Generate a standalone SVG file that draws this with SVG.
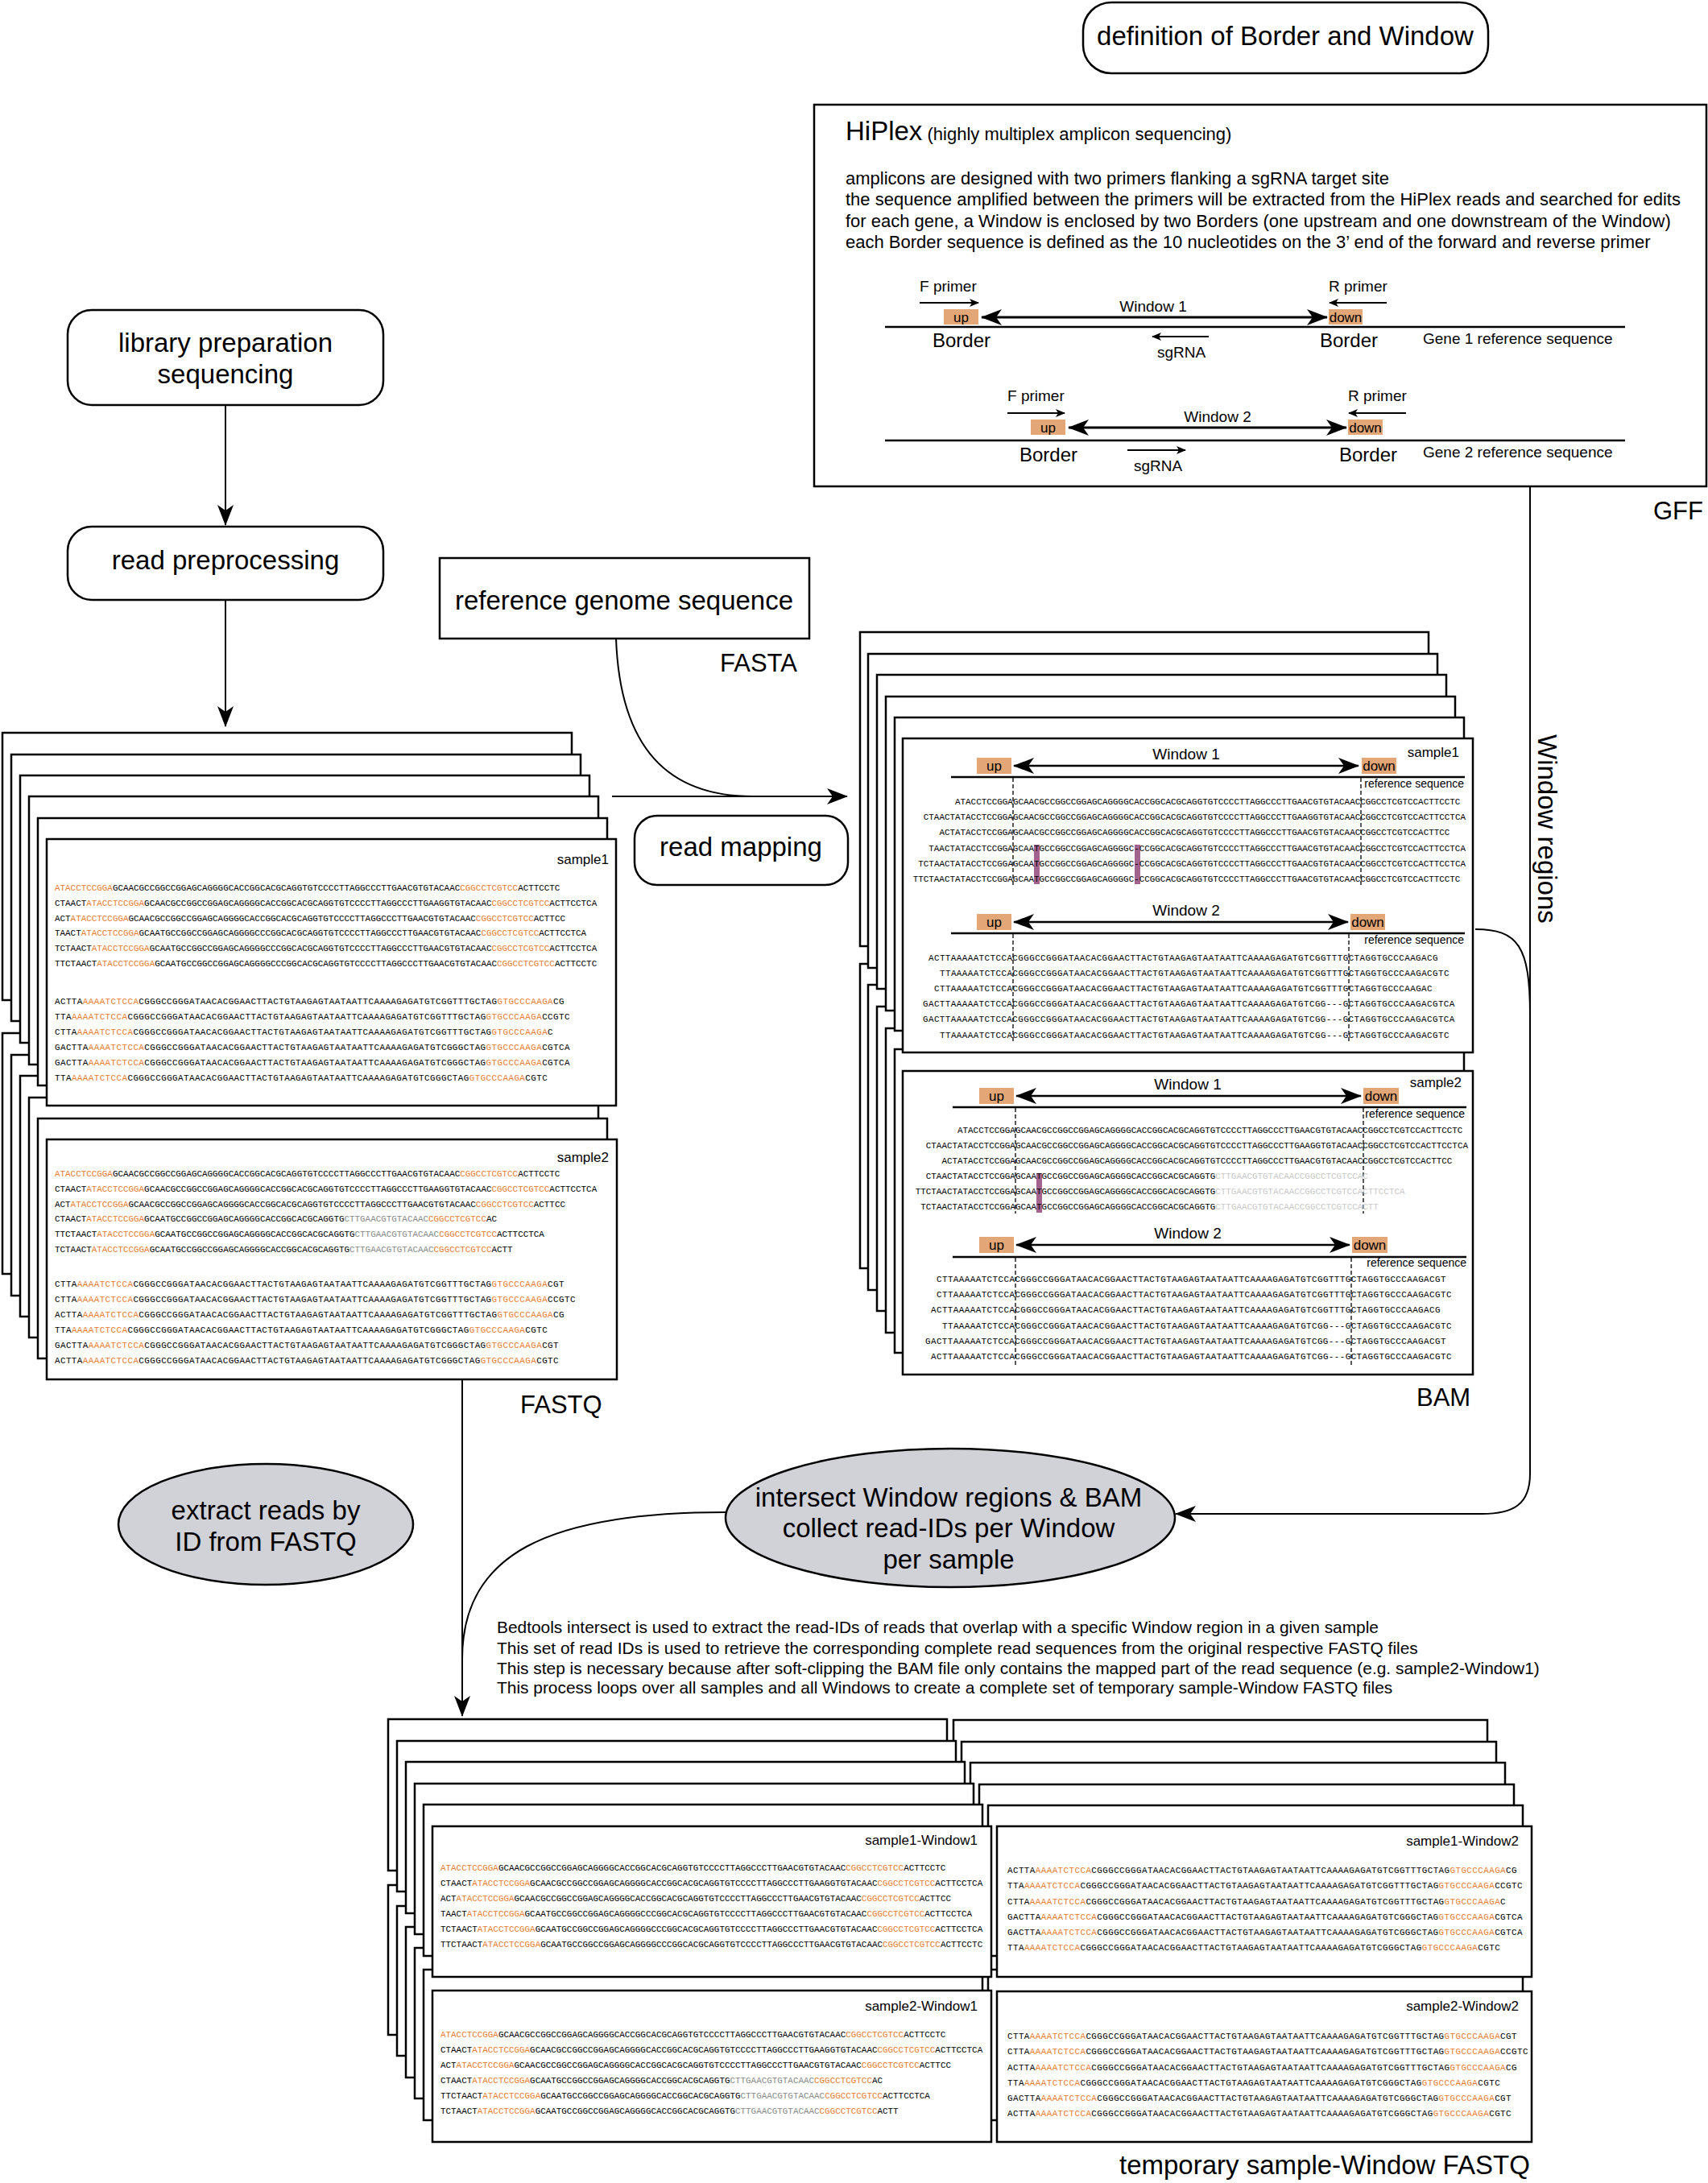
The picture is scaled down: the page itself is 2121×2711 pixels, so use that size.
<svg xmlns="http://www.w3.org/2000/svg" width="2121" height="2711" viewBox="0 0 2121 2711">
<style>
.t{font-family:"Liberation Sans",Arial,sans-serif;fill:#000}
.c{text-anchor:middle}
.r{text-anchor:end}
.nb{fill:#fff;stroke:#000;stroke-width:2.5}
.fr{fill:#fff;stroke:#000;stroke-width:2.5}
.seq{font-family:"Liberation Mono","Courier New",monospace;font-size:10.9px;fill:#000}
.w2{letter-spacing:0.42px}
.o{fill:#E67E33}
.g{fill:#8a8a8a}
.lg{fill:#c9c9c9}
.ln{fill:none;stroke:#000;stroke-width:2}
.bx{fill:#E3A676}
.pu{fill:#A3638F}
.ds{stroke:#000;stroke-width:1.3;stroke-dasharray:5,3}
.el{fill:#D1D2D8;stroke:#000;stroke-width:2.5}
</style>
<defs>
<marker id="ah" viewBox="0 0 26 20" refX="25" refY="10" markerWidth="26" markerHeight="20" markerUnits="userSpaceOnUse" orient="auto"><path d="M0,0 L26,10 L0,20 L7,10 Z" fill="#000"/></marker>
<marker id="wh" viewBox="0 0 26 20" refX="25" refY="10" markerWidth="26" markerHeight="20" markerUnits="userSpaceOnUse" orient="auto-start-reverse"><path d="M0,0 L26,10 L0,20 L7,10 Z" fill="#000"/></marker>
<marker id="sh" viewBox="0 0 12 10" refX="11" refY="5" markerWidth="12" markerHeight="10" markerUnits="userSpaceOnUse" orient="auto"><path d="M0,0 L12,5 L0,10 L3,5 Z" fill="#000"/></marker>
</defs>
<rect width="2121" height="2711" fill="#fff"/>

<!-- connectors -->
<g id="connectors">
<path class="ln" d="M280,503 L280,652" marker-end="url(#ah)"/>
<path class="ln" d="M280,745 L280,902" marker-end="url(#ah)"/>
<path class="ln" d="M765,793 C770,930 830,989 935,989"/>
<path class="ln" d="M760,989 L1052,989" marker-end="url(#ah)"/>
<path class="ln" d="M1900,605 L1900,1830 C1900,1868 1880,1880 1840,1880 L1460,1880" marker-end="url(#ah)"/>
<path class="ln" d="M1832,1154 C1885,1154 1900,1175 1900,1260"/>
<path class="ln" d="M574,1713 L574,2131" marker-end="url(#ah)"/>
<path class="ln" d="M901,1878 C680,1878 574,1930 574,2060"/>
</g>

<!-- definition box -->
<g id="definition">
<rect class="nb" x="1345" y="3" width="503" height="88" rx="35"/>
<text class="t c" x="1596" y="56" font-size="33">definition of Border and Window</text>
</g>

<!-- HiPlex box -->
<g id="hiplex">
<rect class="nb" x="1011" y="130" width="1108" height="474"/>
<text class="t" x="1050" y="174" font-size="33">HiPlex<tspan font-size="22"> (highly multiplex amplicon sequencing)</tspan></text>
<text class="t" x="1050" y="229" font-size="22">amplicons are designed with two primers flanking a sgRNA target site</text>
<text class="t" x="1050" y="255" font-size="22">the sequence amplified between the primers will be extracted from the HiPlex reads and searched for edits</text>
<text class="t" x="1050" y="282" font-size="22">for each gene, a Window is enclosed by two Borders (one upstream and one downstream of the Window)</text>
<text class="t" x="1050" y="308" font-size="22">each Border sequence is defined as the 10 nucleotides on the 3’ end of the forward and reverse primer</text>
<!-- gene 1 -->
<text class="t" x="1142" y="362" font-size="19">F primer</text>
<path class="ln" d="M1142,376 L1215,376" marker-end="url(#sh)"/>
<rect class="bx" x="1172" y="384" width="43" height="19"/>
<text class="t c" x="1193.5" y="400" font-size="17">up</text>
<path d="M1219,394 L1648,394" stroke="#000" stroke-width="3" fill="none" marker-start="url(#wh)" marker-end="url(#wh)"/>
<text class="t c" x="1432" y="387" font-size="19">Window 1</text>
<rect class="bx" x="1650" y="384" width="42" height="19"/>
<text class="t c" x="1671" y="400" font-size="17">down</text>
<text class="t" x="1650" y="362" font-size="19">R primer</text>
<path class="ln" d="M1722,376 L1651,376" marker-end="url(#sh)"/>
<path d="M1099,406 L2018,406" stroke="#000" stroke-width="2.5"/>
<text class="t c" x="1194" y="431" font-size="24">Border</text>
<text class="t c" x="1675" y="431" font-size="24">Border</text>
<path class="ln" d="M1501,418 L1431,418" marker-end="url(#sh)"/>
<text class="t c" x="1467" y="444" font-size="19">sgRNA</text>
<text class="t" x="1767" y="427" font-size="19">Gene 1 reference sequence</text>
<!-- gene 2 -->
<text class="t" x="1251" y="498" font-size="19">F primer</text>
<path class="ln" d="M1251,513 L1322,513" marker-end="url(#sh)"/>
<rect class="bx" x="1280" y="521" width="43" height="19"/>
<text class="t c" x="1301.5" y="537" font-size="17">up</text>
<path d="M1327,531 L1672,531" stroke="#000" stroke-width="3" fill="none" marker-start="url(#wh)" marker-end="url(#wh)"/>
<text class="t c" x="1512" y="524" font-size="19">Window 2</text>
<rect class="bx" x="1674" y="521" width="43" height="19"/>
<text class="t c" x="1695.5" y="537" font-size="17">down</text>
<text class="t" x="1674" y="498" font-size="19">R primer</text>
<path class="ln" d="M1746,513 L1675,513" marker-end="url(#sh)"/>
<path d="M1099,547 L2018,547" stroke="#000" stroke-width="2.5"/>
<text class="t c" x="1302" y="573" font-size="24">Border</text>
<text class="t c" x="1699" y="573" font-size="24">Border</text>
<path class="ln" d="M1400,559 L1472,559" marker-end="url(#sh)"/>
<text class="t c" x="1438" y="585" font-size="19">sgRNA</text>
<text class="t" x="1767" y="568" font-size="19">Gene 2 reference sequence</text>
</g>
<text id="gff-label" class="t" x="2053" y="645" font-size="31">GFF</text>
<text id="window-regions-label" class="t" transform="translate(1910,912) rotate(90)" font-size="33">Window regions</text>

<!-- left nodes -->
<g id="lib-prep">
<rect class="nb" x="84" y="385" width="392" height="118" rx="30"/>
<text class="t c" x="280" y="437" font-size="33">library preparation</text>
<text class="t c" x="280" y="476" font-size="33">sequencing</text>
</g>
<g id="read-preproc">
<rect class="nb" x="84" y="654" width="392" height="91" rx="30"/>
<text class="t c" x="280" y="707" font-size="33">read preprocessing</text>
</g>
<g id="ref-genome">
<rect class="nb" x="546" y="693" width="459" height="100"/>
<text class="t c" x="775" y="757" font-size="33">reference genome sequence</text>
<text class="t" x="894" y="834" font-size="31">FASTA</text>
</g>
<g id="read-mapping">
<rect class="nb" x="788" y="1013" width="265" height="86" rx="28"/>
<text class="t c" x="920" y="1063" font-size="33">read mapping</text>
</g>

<!-- FASTQ stack -->
<g id="fastq-stack">
<g id="fastq-s2">
<rect class="fr" x="3" y="1283" width="707" height="299"/>
<rect class="fr" x="14" y="1310" width="707" height="299"/>
<rect class="fr" x="25" y="1336" width="707" height="299"/>
<rect class="fr" x="36" y="1363" width="707" height="298"/>
<rect class="fr" x="47" y="1389" width="707" height="298"/>
<rect class="fr" x="58" y="1415" width="708" height="298"/>
<text class="t r" x="756" y="1443" font-size="17">sample2</text>
<text class="seq" x="68" y="1461"><tspan class="o">ATACCTCCGGA</tspan>GCAACGCCGGCCGGAGCAGGGGCACCGGCACGCAGGTGTCCCCTTAGGCCCTTGAACGTGTACAAC<tspan class="o">CGGCCTCGTCC</tspan>ACTTCCTC</text>
<text class="seq" x="68" y="1480">CTAACT<tspan class="o">ATACCTCCGGA</tspan>GCAACGCCGGCCGGAGCAGGGGCACCGGCACGCAGGTGTCCCCTTAGGCCCTTGAAGGTGTACAAC<tspan class="o">CGGCCTCGTCC</tspan>ACTTCCTCA</text>
<text class="seq" x="68" y="1499">ACT<tspan class="o">ATACCTCCGGA</tspan>GCAACGCCGGCCGGAGCAGGGGCACCGGCACGCAGGTGTCCCCTTAGGCCCTTGAACGTGTACAAC<tspan class="o">CGGCCTCGTCC</tspan>ACTTCC</text>
<text class="seq" x="68" y="1517">CTAACT<tspan class="o">ATACCTCCGGA</tspan>GCAATGCCGGCCGGAGCAGGGGCACCGGCACGCAGGTG<tspan class="g">CTTGAACGTGTACAAC</tspan><tspan class="o">CGGCCTCGTCC</tspan>AC</text>
<text class="seq" x="68" y="1536">TTCTAACT<tspan class="o">ATACCTCCGGA</tspan>GCAATGCCGGCCGGAGCAGGGGCACCGGCACGCAGGTG<tspan class="g">CTTGAACGTGTACAAC</tspan><tspan class="o">CGGCCTCGTCC</tspan>ACTTCCTCA</text>
<text class="seq" x="68" y="1555">TCTAACT<tspan class="o">ATACCTCCGGA</tspan>GCAATGCCGGCCGGAGCAGGGGCACCGGCACGCAGGTG<tspan class="g">CTTGAACGTGTACAAC</tspan><tspan class="o">CGGCCTCGTCC</tspan>ACTT</text>
<text class="seq w2" x="68" y="1598">CTTA<tspan class="o">AAAATCTCCA</tspan>CGGGCCGGGATAACACGGAACTTACTGTAAGAGTAATAATTCAAAAGAGATGTCGGTTTGCTAG<tspan class="o">GTGCCCAAGA</tspan>CGT</text>
<text class="seq w2" x="68" y="1617">CTTA<tspan class="o">AAAATCTCCA</tspan>CGGGCCGGGATAACACGGAACTTACTGTAAGAGTAATAATTCAAAAGAGATGTCGGTTTGCTAG<tspan class="o">GTGCCCAAGA</tspan>CCGTC</text>
<text class="seq w2" x="68" y="1636">ACTTA<tspan class="o">AAAATCTCCA</tspan>CGGGCCGGGATAACACGGAACTTACTGTAAGAGTAATAATTCAAAAGAGATGTCGGTTTGCTAG<tspan class="o">GTGCCCAAGA</tspan>CG</text>
<text class="seq w2" x="68" y="1655">TTA<tspan class="o">AAAATCTCCA</tspan>CGGGCCGGGATAACACGGAACTTACTGTAAGAGTAATAATTCAAAAGAGATGTCGGGCTAG<tspan class="o">GTGCCCAAGA</tspan>CGTC</text>
<text class="seq w2" x="68" y="1674">GACTTA<tspan class="o">AAAATCTCCA</tspan>CGGGCCGGGATAACACGGAACTTACTGTAAGAGTAATAATTCAAAAGAGATGTCGGGCTAG<tspan class="o">GTGCCCAAGA</tspan>CGT</text>
<text class="seq w2" x="68" y="1693">ACTTA<tspan class="o">AAAATCTCCA</tspan>CGGGCCGGGATAACACGGAACTTACTGTAAGAGTAATAATTCAAAAGAGATGTCGGGCTAG<tspan class="o">GTGCCCAAGA</tspan>CGTC</text>
</g>
<g id="fastq-s1">
<rect class="fr" x="3" y="910" width="707" height="332"/>
<rect class="fr" x="14" y="937" width="707" height="331"/>
<rect class="fr" x="25" y="963" width="707" height="332"/>
<rect class="fr" x="36" y="989" width="707" height="333"/>
<rect class="fr" x="47" y="1016" width="707" height="332"/>
<rect class="fr" x="58" y="1042" width="707" height="331"/>
<text class="t r" x="756" y="1073" font-size="17">sample1</text>
<text class="seq" x="68" y="1106"><tspan class="o">ATACCTCCGGA</tspan>GCAACGCCGGCCGGAGCAGGGGCACCGGCACGCAGGTGTCCCCTTAGGCCCTTGAACGTGTACAAC<tspan class="o">CGGCCTCGTCC</tspan>ACTTCCTC</text>
<text class="seq" x="68" y="1125">CTAACT<tspan class="o">ATACCTCCGGA</tspan>GCAACGCCGGCCGGAGCAGGGGCACCGGCACGCAGGTGTCCCCTTAGGCCCTTGAAGGTGTACAAC<tspan class="o">CGGCCTCGTCC</tspan>ACTTCCTCA</text>
<text class="seq" x="68" y="1144">ACT<tspan class="o">ATACCTCCGGA</tspan>GCAACGCCGGCCGGAGCAGGGGCACCGGCACGCAGGTGTCCCCTTAGGCCCTTGAACGTGTACAAC<tspan class="o">CGGCCTCGTCC</tspan>ACTTCC</text>
<text class="seq" x="68" y="1162">TAACT<tspan class="o">ATACCTCCGGA</tspan>GCAATGCCGGCCGGAGCAGGGGCCCGGCACGCAGGTGTCCCCTTAGGCCCTTGAACGTGTACAAC<tspan class="o">CGGCCTCGTCC</tspan>ACTTCCTCA</text>
<text class="seq" x="68" y="1181">TCTAACT<tspan class="o">ATACCTCCGGA</tspan>GCAATGCCGGCCGGAGCAGGGGCCCGGCACGCAGGTGTCCCCTTAGGCCCTTGAACGTGTACAAC<tspan class="o">CGGCCTCGTCC</tspan>ACTTCCTCA</text>
<text class="seq" x="68" y="1200">TTCTAACT<tspan class="o">ATACCTCCGGA</tspan>GCAATGCCGGCCGGAGCAGGGGCCCGGCACGCAGGTGTCCCCTTAGGCCCTTGAACGTGTACAAC<tspan class="o">CGGCCTCGTCC</tspan>ACTTCCTC</text>
<text class="seq w2" x="68" y="1247">ACTTA<tspan class="o">AAAATCTCCA</tspan>CGGGCCGGGATAACACGGAACTTACTGTAAGAGTAATAATTCAAAAGAGATGTCGGTTTGCTAG<tspan class="o">GTGCCCAAGA</tspan>CG</text>
<text class="seq w2" x="68" y="1266">TTA<tspan class="o">AAAATCTCCA</tspan>CGGGCCGGGATAACACGGAACTTACTGTAAGAGTAATAATTCAAAAGAGATGTCGGTTTGCTAG<tspan class="o">GTGCCCAAGA</tspan>CCGTC</text>
<text class="seq w2" x="68" y="1285">CTTA<tspan class="o">AAAATCTCCA</tspan>CGGGCCGGGATAACACGGAACTTACTGTAAGAGTAATAATTCAAAAGAGATGTCGGTTTGCTAG<tspan class="o">GTGCCCAAGA</tspan>C</text>
<text class="seq w2" x="68" y="1304">GACTTA<tspan class="o">AAAATCTCCA</tspan>CGGGCCGGGATAACACGGAACTTACTGTAAGAGTAATAATTCAAAAGAGATGTCGGGCTAG<tspan class="o">GTGCCCAAGA</tspan>CGTCA</text>
<text class="seq w2" x="68" y="1323">GACTTA<tspan class="o">AAAATCTCCA</tspan>CGGGCCGGGATAACACGGAACTTACTGTAAGAGTAATAATTCAAAAGAGATGTCGGGCTAG<tspan class="o">GTGCCCAAGA</tspan>CGTCA</text>
<text class="seq w2" x="68" y="1342">TTA<tspan class="o">AAAATCTCCA</tspan>CGGGCCGGGATAACACGGAACTTACTGTAAGAGTAATAATTCAAAAGAGATGTCGGGCTAG<tspan class="o">GTGCCCAAGA</tspan>CGTC</text>
</g>
<text class="t" x="646" y="1755" font-size="31">FASTQ</text>
</g>

<!-- BAM stack -->
<g id="bam-stack">
<g id="bam-s2">
<rect class="fr" x="1068" y="1197" width="706" height="378"/>
<rect class="fr" x="1078" y="1223" width="707" height="379"/>
<rect class="fr" x="1089" y="1250" width="707" height="378"/>
<rect class="fr" x="1100" y="1277" width="707" height="378"/>
<rect class="fr" x="1111" y="1303" width="707" height="377"/>
<rect class="fr" x="1121" y="1330" width="708" height="377"/>
<text class="t c" x="1475" y="1353" font-size="19">Window 1</text>
<text class="t r" x="1815" y="1350" font-size="17">sample2</text>
<rect class="bx" x="1216" y="1351" width="43" height="20"/>
<text class="t c" x="1237.5" y="1367" font-size="17">up</text>
<path d="M1262,1361 L1690,1361" stroke="#000" stroke-width="2.5" fill="none" marker-start="url(#wh)" marker-end="url(#wh)"/>
<rect class="bx" x="1693" y="1351" width="44" height="20"/>
<text class="t c" x="1715" y="1367" font-size="17">down</text>
<path d="M1183,1375 L1821,1375" stroke="#000" stroke-width="2.5"/>
<text class="t r" x="1819" y="1388" font-size="14">reference sequence</text>
<path class="ds" d="M1261,1376 L1261,1507 M1693,1376 L1693,1507"/>
<rect class="pu" x="1287" y="1457" width="7" height="49"/>
<text class="seq" x="1189" y="1407">ATACCTCCGGAGCAACGCCGGCCGGAGCAGGGGCACCGGCACGCAGGTGTCCCCTTAGGCCCTTGAACGTGTACAACCGGCCTCGTCCACTTCCTC</text>
<text class="seq" x="1149.8" y="1426">CTAACTATACCTCCGGAGCAACGCCGGCCGGAGCAGGGGCACCGGCACGCAGGTGTCCCCTTAGGCCCTTGAAGGTGTACAACCGGCCTCGTCCACTTCCTCA</text>
<text class="seq" x="1169.4" y="1445">ACTATACCTCCGGAGCAACGCCGGCCGGAGCAGGGGCACCGGCACGCAGGTGTCCCCTTAGGCCCTTGAACGTGTACAACCGGCCTCGTCCACTTCC</text>
<text class="seq" x="1149.8" y="1464">CTAACTATACCTCCGGAGCAATGCCGGCCGGAGCAGGGGCACCGGCACGCAGGTG<tspan class="lg">CTTGAACGTGTACAACCGGCCTCGTCCAC</tspan></text>
<text class="seq" x="1136.7" y="1483">TTCTAACTATACCTCCGGAGCAATGCCGGCCGGAGCAGGGGCACCGGCACGCAGGTG<tspan class="lg">CTTGAACGTGTACAACCGGCCTCGTCCACTTCCTCA</tspan></text>
<text class="seq" x="1143.3" y="1502">TCTAACTATACCTCCGGAGCAATGCCGGCCGGAGCAGGGGCACCGGCACGCAGGTG<tspan class="lg">CTTGAACGTGTACAACCGGCCTCGTCCACTT</tspan></text>
<text class="t c" x="1475" y="1538" font-size="19">Window 2</text>
<rect class="bx" x="1216" y="1536" width="43" height="20"/>
<text class="t c" x="1237.5" y="1552" font-size="17">up</text>
<path d="M1262,1546 L1676,1546" stroke="#000" stroke-width="2.5" fill="none" marker-start="url(#wh)" marker-end="url(#wh)"/>
<rect class="bx" x="1679" y="1536" width="44" height="20"/>
<text class="t c" x="1701" y="1552" font-size="17">down</text>
<path d="M1183,1561 L1821,1561" stroke="#000" stroke-width="2.5"/>
<text class="t r" x="1821" y="1573" font-size="14">reference sequence</text>
<path class="ds" d="M1261,1562 L1261,1695 M1678,1562 L1678,1695"/>
<text class="seq w2" x="1163" y="1592">CTTAAAAATCTCCACGGGCCGGGATAACACGGAACTTACTGTAAGAGTAATAATTCAAAAGAGATGTCGGTTTGCTAGGTGCCCAAGACGT</text>
<text class="seq w2" x="1163" y="1611">CTTAAAAATCTCCACGGGCCGGGATAACACGGAACTTACTGTAAGAGTAATAATTCAAAAGAGATGTCGGTTTGCTAGGTGCCCAAGACGTC</text>
<text class="seq w2" x="1156" y="1630">ACTTAAAAATCTCCACGGGCCGGGATAACACGGAACTTACTGTAAGAGTAATAATTCAAAAGAGATGTCGGTTTGCTAGGTGCCCAAGACG</text>
<text class="seq w2" x="1170" y="1650">TTAAAAATCTCCACGGGCCGGGATAACACGGAACTTACTGTAAGAGTAATAATTCAAAAGAGATGTCGG---GCTAGGTGCCCAAGACGTC</text>
<text class="seq w2" x="1149" y="1669">GACTTAAAAATCTCCACGGGCCGGGATAACACGGAACTTACTGTAAGAGTAATAATTCAAAAGAGATGTCGG---GCTAGGTGCCCAAGACGT</text>
<text class="seq w2" x="1156" y="1688">ACTTAAAAATCTCCACGGGCCGGGATAACACGGAACTTACTGTAAGAGTAATAATTCAAAAGAGATGTCGG---GCTAGGTGCCCAAGACGTC</text>
</g>
<g id="bam-s1">
<rect class="fr" x="1068" y="785" width="706" height="390"/>
<rect class="fr" x="1078" y="812" width="707" height="390"/>
<rect class="fr" x="1089" y="838" width="707" height="390"/>
<rect class="fr" x="1100" y="865" width="707" height="390"/>
<rect class="fr" x="1111" y="891" width="707" height="389"/>
<rect class="fr" x="1121" y="917" width="708" height="390"/>
<text class="t c" x="1473" y="943" font-size="19">Window 1</text>
<text class="t r" x="1812" y="940" font-size="17">sample1</text>
<rect class="bx" x="1213" y="941" width="43" height="20"/>
<text class="t c" x="1234.5" y="957" font-size="17">up</text>
<path d="M1259,951 L1687,951" stroke="#000" stroke-width="2.5" fill="none" marker-start="url(#wh)" marker-end="url(#wh)"/>
<rect class="bx" x="1691" y="941" width="43" height="20"/>
<text class="t c" x="1712.5" y="957" font-size="17">down</text>
<path d="M1181,965 L1819,965" stroke="#000" stroke-width="2.5"/>
<text class="t r" x="1818" y="978" font-size="14">reference sequence</text>
<path class="ds" d="M1258,966 L1258,1102 M1690,966 L1690,1102"/>
<rect class="pu" x="1284" y="1049" width="7" height="49"/>
<rect class="pu" x="1409" y="1049" width="7" height="49"/>
<text class="seq" x="1186" y="999">ATACCTCCGGAGCAACGCCGGCCGGAGCAGGGGCACCGGCACGCAGGTGTCCCCTTAGGCCCTTGAACGTGTACAACCGGCCTCGTCCACTTCCTC</text>
<text class="seq" x="1146.8" y="1018">CTAACTATACCTCCGGAGCAACGCCGGCCGGAGCAGGGGCACCGGCACGCAGGTGTCCCCTTAGGCCCTTGAAGGTGTACAACCGGCCTCGTCCACTTCCTCA</text>
<text class="seq" x="1166.4" y="1037">ACTATACCTCCGGAGCAACGCCGGCCGGAGCAGGGGCACCGGCACGCAGGTGTCCCCTTAGGCCCTTGAACGTGTACAACCGGCCTCGTCCACTTCC</text>
<text class="seq" x="1153.3" y="1057">TAACTATACCTCCGGAGCAATGCCGGCCGGAGCAGGGGC-CCGGCACGCAGGTGTCCCCTTAGGCCCTTGAACGTGTACAACCGGCCTCGTCCACTTCCTCA</text>
<text class="seq" x="1140.3" y="1076">TCTAACTATACCTCCGGAGCAATGCCGGCCGGAGCAGGGGC-CCGGCACGCAGGTGTCCCCTTAGGCCCTTGAACGTGTACAACCGGCCTCGTCCACTTCCTCA</text>
<text class="seq" x="1133.7" y="1095">TTCTAACTATACCTCCGGAGCAATGCCGGCCGGAGCAGGGGC-CCGGCACGCAGGTGTCCCCTTAGGCCCTTGAACGTGTACAACCGGCCTCGTCCACTTCCTC</text>
<text class="t c" x="1473" y="1137" font-size="19">Window 2</text>
<rect class="bx" x="1213" y="1135" width="43" height="20"/>
<text class="t c" x="1234.5" y="1151" font-size="17">up</text>
<path d="M1259,1145 L1674,1145" stroke="#000" stroke-width="2.5" fill="none" marker-start="url(#wh)" marker-end="url(#wh)"/>
<rect class="bx" x="1677" y="1135" width="43" height="20"/>
<text class="t c" x="1698.5" y="1151" font-size="17">down</text>
<path d="M1181,1159 L1819,1159" stroke="#000" stroke-width="2.5"/>
<text class="t r" x="1818" y="1172" font-size="14">reference sequence</text>
<path class="ds" d="M1258,1160 L1258,1293 M1675,1160 L1675,1293"/>
<text class="seq w2" x="1153" y="1193">ACTTAAAAATCTCCACGGGCCGGGATAACACGGAACTTACTGTAAGAGTAATAATTCAAAAGAGATGTCGGTTTGCTAGGTGCCCAAGACG</text>
<text class="seq w2" x="1167" y="1212">TTAAAAATCTCCACGGGCCGGGATAACACGGAACTTACTGTAAGAGTAATAATTCAAAAGAGATGTCGGTTTGCTAGGTGCCCAAGACGTC</text>
<text class="seq w2" x="1160" y="1231">CTTAAAAATCTCCACGGGCCGGGATAACACGGAACTTACTGTAAGAGTAATAATTCAAAAGAGATGTCGGTTTGCTAGGTGCCCAAGAC</text>
<text class="seq w2" x="1146" y="1250">GACTTAAAAATCTCCACGGGCCGGGATAACACGGAACTTACTGTAAGAGTAATAATTCAAAAGAGATGTCGG---GCTAGGTGCCCAAGACGTCA</text>
<text class="seq w2" x="1146" y="1269">GACTTAAAAATCTCCACGGGCCGGGATAACACGGAACTTACTGTAAGAGTAATAATTCAAAAGAGATGTCGG---GCTAGGTGCCCAAGACGTCA</text>
<text class="seq w2" x="1167" y="1289">TTAAAAATCTCCACGGGCCGGGATAACACGGAACTTACTGTAAGAGTAATAATTCAAAAGAGATGTCGG---GCTAGGTGCCCAAGACGTC</text>
</g>
<text class="t" x="1759" y="1746" font-size="31">BAM</text>
</g>

<!-- process ellipses -->
<g id="intersect">
<ellipse class="el" cx="1180" cy="1885" rx="279" ry="86"/>
<text class="t c" x="1178" y="1871" font-size="33">intersect Window regions &amp; BAM</text>
<text class="t c" x="1178" y="1909" font-size="33">collect read-IDs per Window</text>
<text class="t c" x="1178" y="1948" font-size="33">per sample</text>
</g>
<g id="extract">
<ellipse class="el" cx="330" cy="1893" rx="183" ry="75"/>
<text class="t c" x="330" y="1887" font-size="33">extract reads by</text>
<text class="t c" x="330" y="1926" font-size="33">ID from FASTQ</text>
</g>
<g id="bedtools-text">
<text class="t" x="617" y="2028" font-size="20.9">Bedtools intersect is used to extract the read-IDs of reads that overlap with a specific Window region in a given sample</text>
<text class="t" x="617" y="2054" font-size="20.9">This set of read IDs is used to retrieve the corresponding complete read sequences from the original respective FASTQ files</text>
<text class="t" x="617" y="2079" font-size="20.9">This step is necessary because after soft-clipping the BAM file only contains the mapped part of the read sequence (e.g. sample2-Window1)</text>
<text class="t" x="617" y="2103" font-size="20.9">This process loops over all samples and all Windows to create a complete set of temporary sample-Window FASTQ files</text>
</g>

<!-- temporary sample-Window FASTQ stacks -->
<g id="tmp-fastq">
<g id="tmp-w2">
<g id="tmp-s2w2">
<rect class="fr" x="1184" y="2341" width="663" height="186"/>
<rect class="fr" x="1194" y="2367" width="664" height="186"/>
<rect class="fr" x="1205" y="2393" width="664" height="187"/>
<rect class="fr" x="1216" y="2419" width="664" height="187"/>
<rect class="fr" x="1227" y="2446" width="664" height="187"/>
<rect class="fr" x="1238" y="2473" width="664" height="187"/>
<text class="t r" x="1886" y="2497" font-size="17">sample2-Window2</text>
<text class="seq w2" x="1251" y="2532">CTTA<tspan class="o">AAAATCTCCA</tspan>CGGGCCGGGATAACACGGAACTTACTGTAAGAGTAATAATTCAAAAGAGATGTCGGTTTGCTAG<tspan class="o">GTGCCCAAGA</tspan>CGT</text>
<text class="seq w2" x="1251" y="2551">CTTA<tspan class="o">AAAATCTCCA</tspan>CGGGCCGGGATAACACGGAACTTACTGTAAGAGTAATAATTCAAAAGAGATGTCGGTTTGCTAG<tspan class="o">GTGCCCAAGA</tspan>CCGTC</text>
<text class="seq w2" x="1251" y="2571">ACTTA<tspan class="o">AAAATCTCCA</tspan>CGGGCCGGGATAACACGGAACTTACTGTAAGAGTAATAATTCAAAAGAGATGTCGGTTTGCTAG<tspan class="o">GTGCCCAAGA</tspan>CG</text>
<text class="seq w2" x="1251" y="2590">TTA<tspan class="o">AAAATCTCCA</tspan>CGGGCCGGGATAACACGGAACTTACTGTAAGAGTAATAATTCAAAAGAGATGTCGGGCTAG<tspan class="o">GTGCCCAAGA</tspan>CGTC</text>
<text class="seq w2" x="1251" y="2609">GACTTA<tspan class="o">AAAATCTCCA</tspan>CGGGCCGGGATAACACGGAACTTACTGTAAGAGTAATAATTCAAAAGAGATGTCGGGCTAG<tspan class="o">GTGCCCAAGA</tspan>CGT</text>
<text class="seq w2" x="1251" y="2628">ACTTA<tspan class="o">AAAATCTCCA</tspan>CGGGCCGGGATAACACGGAACTTACTGTAAGAGTAATAATTCAAAAGAGATGTCGGGCTAG<tspan class="o">GTGCCCAAGA</tspan>CGTC</text>
</g>
<g id="tmp-s1w2">
<rect class="fr" x="1184" y="2136" width="663" height="187"/>
<rect class="fr" x="1194" y="2163" width="664" height="186"/>
<rect class="fr" x="1205" y="2189" width="664" height="187"/>
<rect class="fr" x="1216" y="2216" width="664" height="186"/>
<rect class="fr" x="1227" y="2242" width="664" height="187"/>
<rect class="fr" x="1238" y="2268" width="664" height="187"/>
<text class="t r" x="1886" y="2292" font-size="17">sample1-Window2</text>
<text class="seq w2" x="1251" y="2326">ACTTA<tspan class="o">AAAATCTCCA</tspan>CGGGCCGGGATAACACGGAACTTACTGTAAGAGTAATAATTCAAAAGAGATGTCGGTTTGCTAG<tspan class="o">GTGCCCAAGA</tspan>CG</text>
<text class="seq w2" x="1251" y="2345">TTA<tspan class="o">AAAATCTCCA</tspan>CGGGCCGGGATAACACGGAACTTACTGTAAGAGTAATAATTCAAAAGAGATGTCGGTTTGCTAG<tspan class="o">GTGCCCAAGA</tspan>CCGTC</text>
<text class="seq w2" x="1251" y="2365">CTTA<tspan class="o">AAAATCTCCA</tspan>CGGGCCGGGATAACACGGAACTTACTGTAAGAGTAATAATTCAAAAGAGATGTCGGTTTGCTAG<tspan class="o">GTGCCCAAGA</tspan>C</text>
<text class="seq w2" x="1251" y="2384">GACTTA<tspan class="o">AAAATCTCCA</tspan>CGGGCCGGGATAACACGGAACTTACTGTAAGAGTAATAATTCAAAAGAGATGTCGGGCTAG<tspan class="o">GTGCCCAAGA</tspan>CGTCA</text>
<text class="seq w2" x="1251" y="2403">GACTTA<tspan class="o">AAAATCTCCA</tspan>CGGGCCGGGATAACACGGAACTTACTGTAAGAGTAATAATTCAAAAGAGATGTCGGGCTAG<tspan class="o">GTGCCCAAGA</tspan>CGTCA</text>
<text class="seq w2" x="1251" y="2422">TTA<tspan class="o">AAAATCTCCA</tspan>CGGGCCGGGATAACACGGAACTTACTGTAAGAGTAATAATTCAAAAGAGATGTCGGGCTAG<tspan class="o">GTGCCCAAGA</tspan>CGTC</text>
</g>
</g>
<g id="tmp-w1">
<g id="tmp-s2w1">
<rect class="fr" x="482" y="2341" width="694" height="186"/>
<rect class="fr" x="493" y="2367" width="694" height="186"/>
<rect class="fr" x="504" y="2393" width="694" height="187"/>
<rect class="fr" x="515" y="2419" width="694" height="187"/>
<rect class="fr" x="526" y="2446" width="694" height="187"/>
<rect class="fr" x="537" y="2472" width="694" height="188"/>
<text class="t r" x="1214" y="2497" font-size="17">sample2-Window1</text>
<text class="seq" x="547" y="2530"><tspan class="o">ATACCTCCGGA</tspan>GCAACGCCGGCCGGAGCAGGGGCACCGGCACGCAGGTGTCCCCTTAGGCCCTTGAACGTGTACAAC<tspan class="o">CGGCCTCGTCC</tspan>ACTTCCTC</text>
<text class="seq" x="547" y="2549">CTAACT<tspan class="o">ATACCTCCGGA</tspan>GCAACGCCGGCCGGAGCAGGGGCACCGGCACGCAGGTGTCCCCTTAGGCCCTTGAAGGTGTACAAC<tspan class="o">CGGCCTCGTCC</tspan>ACTTCCTCA</text>
<text class="seq" x="547" y="2568">ACT<tspan class="o">ATACCTCCGGA</tspan>GCAACGCCGGCCGGAGCAGGGGCACCGGCACGCAGGTGTCCCCTTAGGCCCTTGAACGTGTACAAC<tspan class="o">CGGCCTCGTCC</tspan>ACTTCC</text>
<text class="seq" x="547" y="2587">CTAACT<tspan class="o">ATACCTCCGGA</tspan>GCAATGCCGGCCGGAGCAGGGGCACCGGCACGCAGGTG<tspan class="g">CTTGAACGTGTACAAC</tspan><tspan class="o">CGGCCTCGTCC</tspan>AC</text>
<text class="seq" x="547" y="2606">TTCTAACT<tspan class="o">ATACCTCCGGA</tspan>GCAATGCCGGCCGGAGCAGGGGCACCGGCACGCAGGTG<tspan class="g">CTTGAACGTGTACAAC</tspan><tspan class="o">CGGCCTCGTCC</tspan>ACTTCCTCA</text>
<text class="seq" x="547" y="2625">TCTAACT<tspan class="o">ATACCTCCGGA</tspan>GCAATGCCGGCCGGAGCAGGGGCACCGGCACGCAGGTG<tspan class="g">CTTGAACGTGTACAAC</tspan><tspan class="o">CGGCCTCGTCC</tspan>ACTT</text>
</g>
<g id="tmp-s1w1">
<rect class="fr" x="482" y="2135" width="694" height="188"/>
<rect class="fr" x="493" y="2162" width="694" height="187"/>
<rect class="fr" x="504" y="2188" width="694" height="188"/>
<rect class="fr" x="515" y="2215" width="694" height="187"/>
<rect class="fr" x="526" y="2241" width="694" height="188"/>
<rect class="fr" x="537" y="2268" width="694" height="187"/>
<text class="t r" x="1214" y="2291" font-size="17">sample1-Window1</text>
<text class="seq" x="547" y="2323"><tspan class="o">ATACCTCCGGA</tspan>GCAACGCCGGCCGGAGCAGGGGCACCGGCACGCAGGTGTCCCCTTAGGCCCTTGAACGTGTACAAC<tspan class="o">CGGCCTCGTCC</tspan>ACTTCCTC</text>
<text class="seq" x="547" y="2342">CTAACT<tspan class="o">ATACCTCCGGA</tspan>GCAACGCCGGCCGGAGCAGGGGCACCGGCACGCAGGTGTCCCCTTAGGCCCTTGAAGGTGTACAAC<tspan class="o">CGGCCTCGTCC</tspan>ACTTCCTCA</text>
<text class="seq" x="547" y="2361">ACT<tspan class="o">ATACCTCCGGA</tspan>GCAACGCCGGCCGGAGCAGGGGCACCGGCACGCAGGTGTCCCCTTAGGCCCTTGAACGTGTACAAC<tspan class="o">CGGCCTCGTCC</tspan>ACTTCC</text>
<text class="seq" x="547" y="2380">TAACT<tspan class="o">ATACCTCCGGA</tspan>GCAATGCCGGCCGGAGCAGGGGCCCGGCACGCAGGTGTCCCCTTAGGCCCTTGAACGTGTACAAC<tspan class="o">CGGCCTCGTCC</tspan>ACTTCCTCA</text>
<text class="seq" x="547" y="2399">TCTAACT<tspan class="o">ATACCTCCGGA</tspan>GCAATGCCGGCCGGAGCAGGGGCCCGGCACGCAGGTGTCCCCTTAGGCCCTTGAACGTGTACAAC<tspan class="o">CGGCCTCGTCC</tspan>ACTTCCTCA</text>
<text class="seq" x="547" y="2418">TTCTAACT<tspan class="o">ATACCTCCGGA</tspan>GCAATGCCGGCCGGAGCAGGGGCCCGGCACGCAGGTGTCCCCTTAGGCCCTTGAACGTGTACAAC<tspan class="o">CGGCCTCGTCC</tspan>ACTTCCTC</text>
</g>
</g>
<text class="t" x="1390" y="2700" font-size="33">temporary sample-Window FASTQ</text>
</g>
</svg>
